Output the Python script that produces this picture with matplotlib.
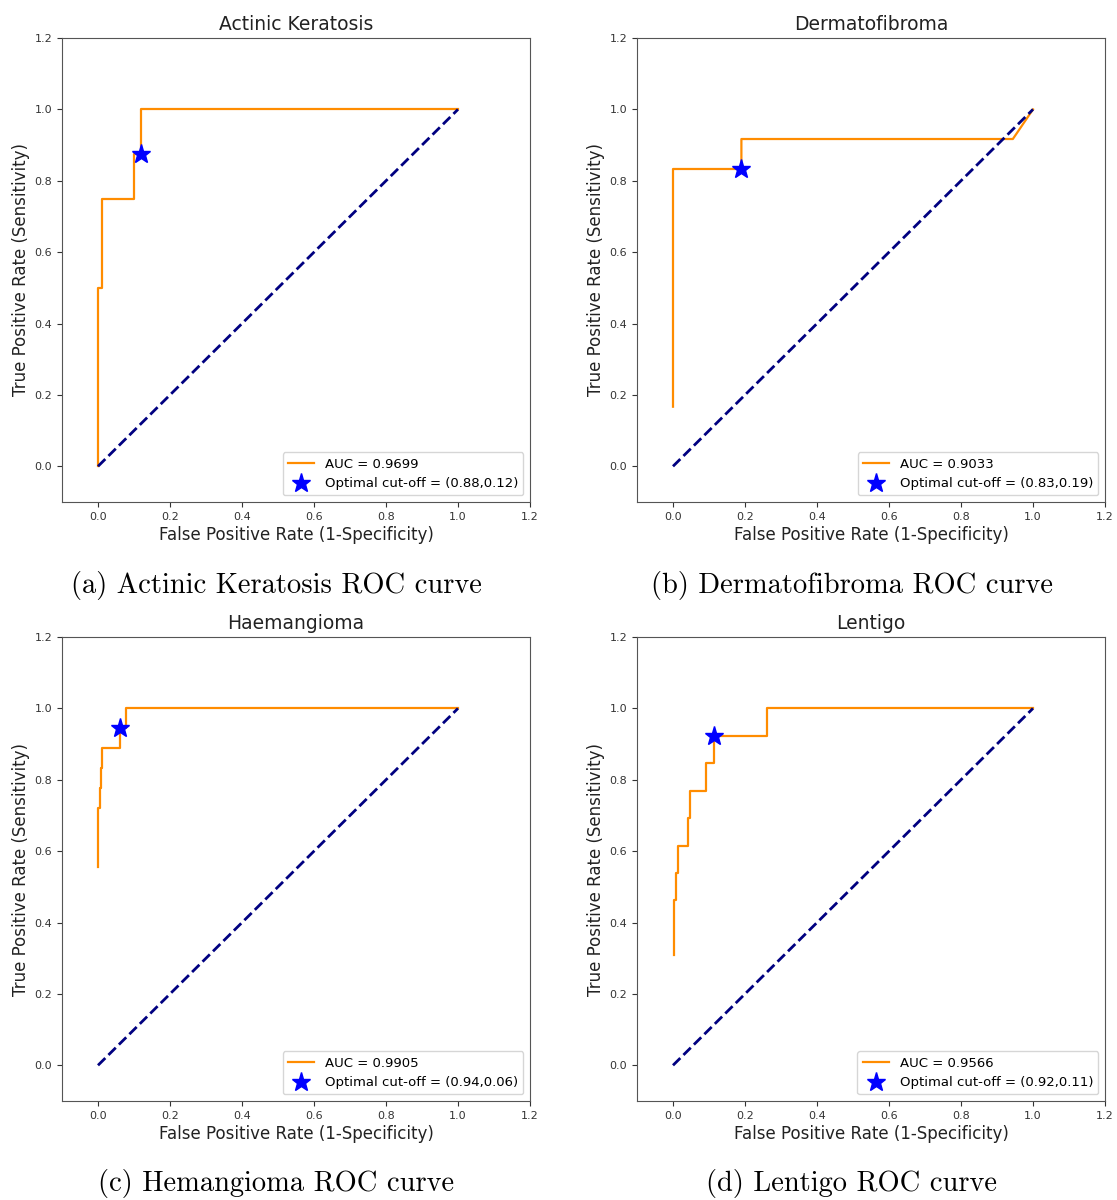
import matplotlib
matplotlib.use("Agg")
import matplotlib.pyplot as plt

titles = ["Actinic Keratosis", "Dermatofibroma", "Haemangioma", "Lentigo"]
captions = ["(a) Actinic Keratosis ROC curve", "(b) Dermatofibroma ROC curve",
            "(c) Hemangioma ROC curve", "(d) Lentigo ROC curve"]
auc_values = [0.9699, 0.9033, 0.9905, 0.9566]
cutoff_labels = ["(0.88,0.12)", "(0.83,0.19)", "(0.94,0.06)", "(0.92,0.11)"]

fpr_a = [0, 0, 0.01, 0.01, 0.1, 0.1, 0.12, 0.12, 1.0]
tpr_a = [0, 0.5, 0.5, 0.75, 0.75, 0.875, 0.875, 1.0, 1.0]
fpr_b = [0, 0, 0.19, 0.19, 0.944, 1.0]
tpr_b = [0.167, 0.833, 0.833, 0.917, 0.917, 1.0]
fpr_c = [0, 0, 0.005, 0.005, 0.009, 0.009, 0.012, 0.012, 0.06, 0.06, 0.078, 0.078, 1.0]
tpr_c = [0.556, 0.722, 0.722, 0.778, 0.778, 0.833, 0.833, 0.889, 0.889, 0.944, 0.944, 1.0, 1.0]
fpr_d = [0.004, 0.004, 0.007, 0.007, 0.015, 0.015, 0.041, 0.041, 0.048, 0.048, 0.091, 0.091,
         0.114, 0.114, 0.262, 0.262, 1.0]
tpr_d = [0.308, 0.462, 0.462, 0.538, 0.538, 0.615, 0.615, 0.692, 0.692, 0.769, 0.769, 0.846,
         0.846, 0.923, 0.923, 1.0, 1.0]
opt_fpr = [0.12, 0.19, 0.06, 0.114]
opt_tpr = [0.875, 0.833, 0.944, 0.923]

fprs = [fpr_a, fpr_b, fpr_c, fpr_d]
tprs = [tpr_a, tpr_b, tpr_c, tpr_d]

W, H = 1117, 1200
fig = plt.figure(figsize=(W / 100, H / 100), dpi=100)

# axes boxes in pixels: left, top, right, bottom
boxes = [(62, 38, 530, 502), (637, 38, 1105, 502),
         (62, 637, 530, 1101), (637, 637, 1105, 1101)]
cap_pos = [(276, 585), (852, 585), (276, 1184), (852, 1184)]

for i in range(4):
    l, t, r, b = boxes[i]
    ax = fig.add_axes([l / W, 1 - b / H, (r - l) / W, (b - t) / H])
    ax.plot(fprs[i], tprs[i], color="darkorange", lw=1.6,
            label="AUC = %.4f" % auc_values[i])
    ax.plot([0, 1], [0, 1], color="navy", lw=2, linestyle="--")
    ax.plot([opt_fpr[i]], [opt_tpr[i]], marker="*", color="blue", linestyle="none",
            markersize=14, label="Optimal cut-off = " + cutoff_labels[i])
    ax.set_xlim(-0.1, 1.2)
    ax.set_ylim(-0.1, 1.2)
    ax.set_xticks([0.0, 0.2, 0.4, 0.6, 0.8, 1.0, 1.2])
    ax.set_yticks([0.0, 0.2, 0.4, 0.6, 0.8, 1.0, 1.2])
    ax.tick_params(labelsize=8, colors="#333333")
    for s in ax.spines.values():
        s.set_color("#555555")
    ax.set_title(titles[i], fontsize=13.5, color="#222222")
    ax.set_xlabel("False Positive Rate (1-Specificity)", fontsize=12, color="#222222", labelpad=3)
    ax.set_ylabel("True Positive Rate (Sensitivity)", fontsize=12, color="#222222", labelpad=3)
    ax.legend(loc="lower right", fontsize=9.5, handlelength=2.0)
    cx, cy = cap_pos[i]
    fig.text(cx / W, 1 - cy / H, captions[i], ha="center", va="center",
             fontsize=20.5, family="cmr10")

fig.savefig("out.png", dpi=100)
